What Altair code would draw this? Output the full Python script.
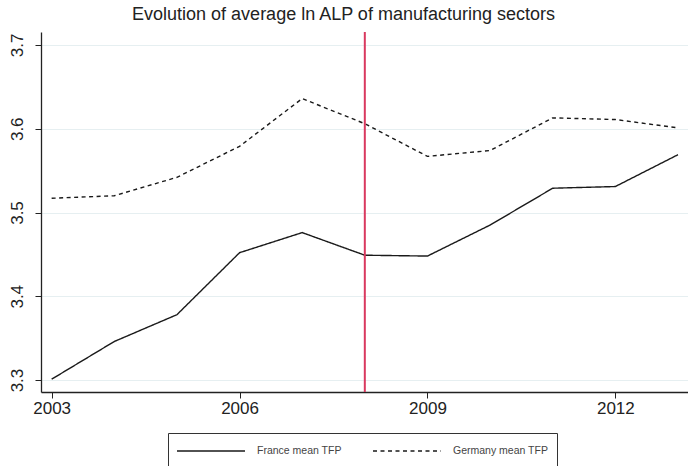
import altair as alt
import pandas as pd

years = [2003, 2004, 2005, 2006, 2007, 2008, 2009, 2010, 2011, 2012, 2013]
france_tfp = [3.301, 3.346, 3.378, 3.452, 3.476, 3.449, 3.448, 3.485, 3.529, 3.531, 3.569]
germany_tfp = [3.517, 3.520, 3.542, 3.579, 3.636, 3.606, 3.567, 3.574, 3.613, 3.611, 3.601]
series_names = ["France mean TFP", "Germany mean TFP"]
crisis_year = [2008]
x_ticks = [2003, 2006, 2009, 2012]
y_ticks = [3.3, 3.4, 3.5, 3.6, 3.7]

df = pd.DataFrame({
    "year": years * 2,
    "tfp": france_tfp + germany_tfp,
    "series": [series_names[0]] * len(years) + [series_names[1]] * len(years),
})
vline = pd.DataFrame({"year": crisis_year})

FONT = "Liberation Sans"

x_scale = alt.Scale(domain=[2002.83, 2013.16], nice=False, zero=False)
y_scale = alt.Scale(domain=[3.2857, 3.7155], nice=False, zero=False)

lines = alt.Chart(df).mark_line(strokeWidth=1.4, color="#1a1a1a", clip=True).encode(
    x=alt.X("year:Q", scale=x_scale,
            axis=alt.Axis(values=x_ticks, format="d", title=None, grid=False,
                          labelFontSize=17, labelColor="#222", domainColor="#222",
                          tickColor="#222", tickSize=6, labelPadding=2,
                          labelFont=FONT)),
    y=alt.Y("tfp:Q", scale=y_scale,
            axis=alt.Axis(values=y_ticks, format=".1f", title=None,
                          grid=True, gridColor="#e6eff1", gridWidth=1.2,
                          labelFontSize=17, labelColor="#222", labelAngle=270,
                          labelAlign="center", labelBaseline="bottom",
                          domainColor="#222", tickColor="#222", tickSize=6,
                          labelPadding=9, labelFont=FONT)),
    strokeDash=alt.StrokeDash(
        "series:N",
        scale=alt.Scale(domain=series_names, range=[[1, 0], [4, 3.5]]),
        legend=alt.Legend(
            title=None, orient="none", legendX=127, legendY=401,
            direction="horizontal", columns=2, symbolType="stroke",
            symbolSize=4624, symbolStrokeWidth=1.3, symbolStrokeColor="#1a1a1a",
            clipHeight=20,
            labelFontSize=10.5, labelColor="#444", labelFont=FONT,
            strokeColor="#333", padding=8, columnPadding=30, labelOffset=11,
            symbolOffset=0,
        ),
    ),
)

rule = alt.Chart(vline).mark_rule(color="#d9395f", strokeWidth=2).encode(
    x=alt.X("year:Q", scale=x_scale)
)

chart = alt.layer(lines, rule).properties(
    width=647,
    height=360,
    padding={"left": 41, "top": 32, "right": 0, "bottom": 74},
    autosize=alt.AutoSizeParams(type="none"),
    title=alt.Title("Evolution of average ln ALP of manufacturing sectors",
                    fontSize=18, font=FONT, fontWeight="normal", color="#222",
                    offset=7, anchor="middle", dx=-21),
).configure_view(stroke=None).configure_axis(domainWidth=1.3)

chart.save("out.html", embed_options={"renderer": "svg", "actions": False})
